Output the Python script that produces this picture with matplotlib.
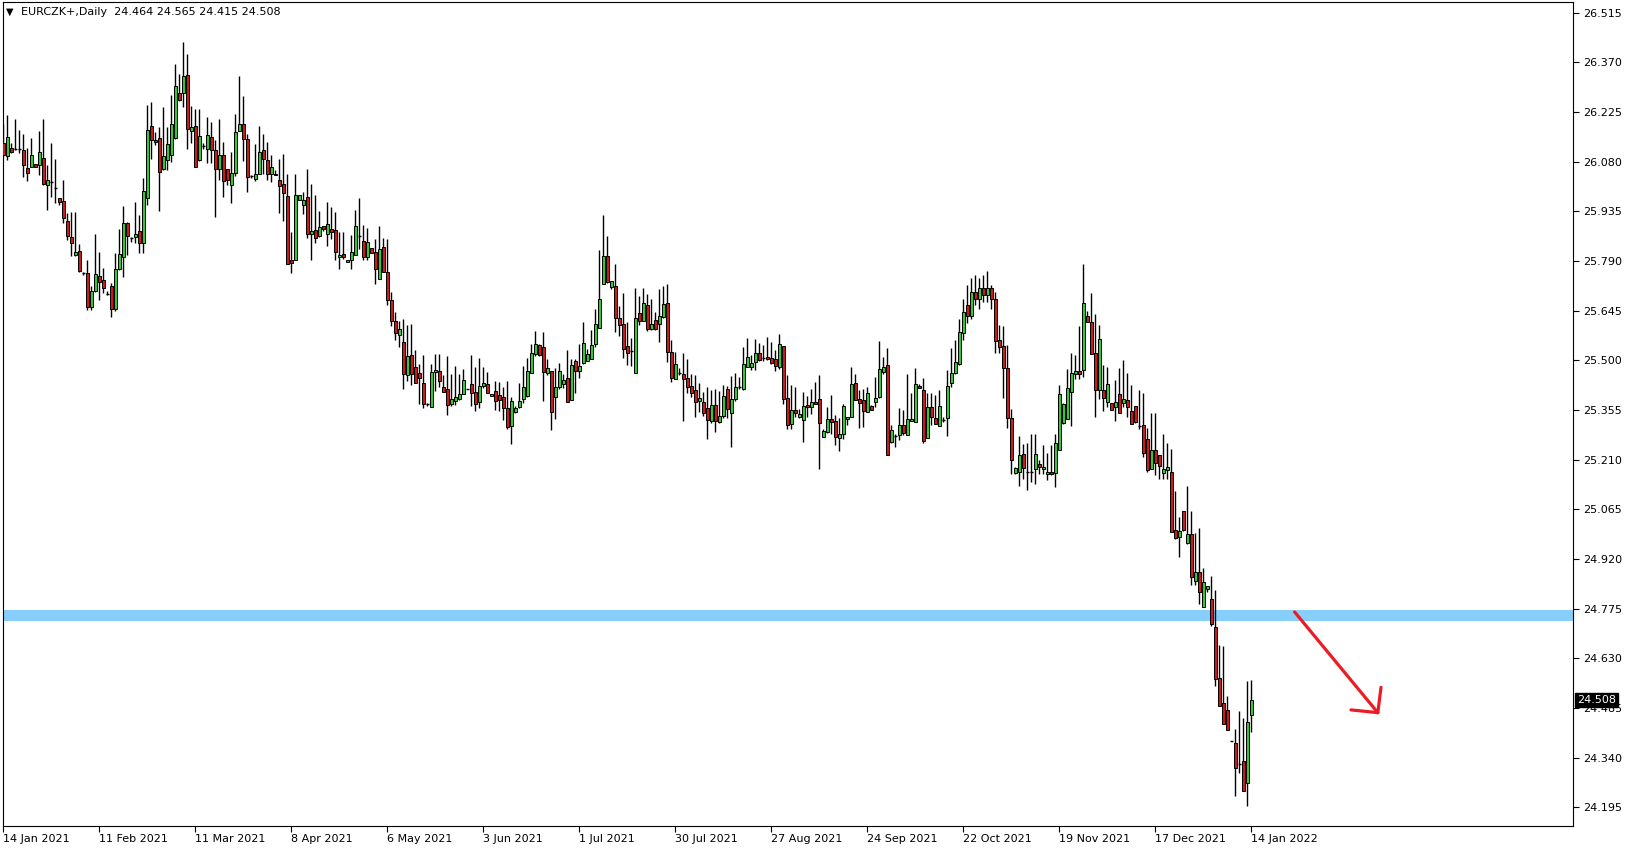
import matplotlib.pyplot as plt
import matplotlib.transforms as mtransforms

# daily bars EURCZK+ (broker has sunday bars, 6 per week)
opens = [
    26.133, 26.096, 26.121, 26.118, 26.117, 26.114, 26.060, 26.063, 26.072, 26.069,
    26.090, 26.013, 26.022, 26.004, 25.973, 25.964, 25.906, 25.859, 25.808, 25.819,
    25.757, 25.755, 25.656, 25.703, 25.745, 25.733, 25.693, 25.716, 25.651, 25.767,
    25.802, 25.900, 25.857, 25.861, 25.876, 25.841, 25.973, 26.183, 26.143, 26.148,
    26.057, 26.086, 26.098, 26.150, 26.280, 26.281, 26.332, 26.170, 26.183, 26.086,
    26.126, 26.116, 26.153, 26.115, 26.057, 26.098, 26.057, 26.012, 26.047, 26.168,
    26.191, 26.146, 26.038, 26.030, 26.045, 26.113, 26.084, 26.045, 26.045, 26.026,
    26.016, 25.979, 25.794, 25.794, 25.967, 25.952, 25.976, 25.870, 25.879, 25.864,
    25.891, 25.870, 25.882, 25.879, 25.800, 25.809, 25.788, 25.794, 25.806, 25.864,
    25.847, 25.800, 25.829, 25.815, 25.736, 25.832, 25.759, 25.677, 25.615, 25.575,
    25.553, 25.456, 25.515, 25.480, 25.462, 25.433, 25.371, 25.363, 25.465, 25.468,
    25.423, 25.416, 25.371, 25.382, 25.387, 25.401, 25.416, 25.431, 25.407, 25.377,
    25.426, 25.431, 25.395, 25.410, 25.398, 25.392, 25.360, 25.309, 25.348, 25.363,
    25.386, 25.397, 25.462, 25.518, 25.544, 25.538, 25.462, 25.468, 25.394, 25.423,
    25.432, 25.447, 25.385, 25.498, 25.470, 25.493, 25.499, 25.503, 25.546, 25.593,
    25.722, 25.804, 25.713, 25.716, 25.622, 25.606, 25.542, 25.528, 25.464, 25.637,
    25.616, 25.660, 25.592, 25.617, 25.607, 25.625, 25.666, 25.525, 25.444, 25.462,
    25.460, 25.447, 25.424, 25.412, 25.382, 25.377, 25.360, 25.324, 25.368, 25.319,
    25.338, 25.415, 25.345, 25.388, 25.421, 25.415, 25.479, 25.481, 25.496, 25.520,
    25.506, 25.508, 25.506, 25.503, 25.479, 25.542, 25.389, 25.313, 25.355, 25.333,
    25.325, 25.369, 25.362, 25.378, 25.388, 25.276, 25.291, 25.327, 25.322, 25.274,
    25.286, 25.327, 25.335, 25.433, 25.386, 25.383, 25.350, 25.366, 25.378, 25.393,
    25.466, 25.486, 25.260, 25.279, 25.283, 25.311, 25.283, 25.322, 25.320, 25.424,
    25.413, 25.272, 25.362, 25.330, 25.309, 25.325, 25.332, 25.434, 25.463, 25.488,
    25.580, 25.660, 25.630, 25.700, 25.680, 25.710, 25.690, 25.710, 25.680, 25.559,
    25.541, 25.476, 25.330, 25.171, 25.174, 25.225, 25.173, 25.175, 25.181, 25.198,
    25.181, 25.169, 25.173, 25.171, 25.239, 25.318, 25.327, 25.406, 25.461, 25.468,
    25.471, 25.629, 25.611, 25.520, 25.414, 25.414, 25.377, 25.374, 25.362, 25.400,
    25.374, 25.385, 25.351, 25.366, 25.308, 25.310, 25.269, 25.181, 25.239, 25.222,
    25.171, 25.179, 25.173, 25.004, 24.985, 25.060, 24.967, 24.993, 24.856, 24.882,
    24.780, 24.832, 24.802, 24.720, 24.572, 24.498, 24.479, 24.387, 24.382, 24.321,
    24.331, 24.265, 24.464,
]
highs = [
    26.190, 26.216, 26.133, 26.203, 26.172, 26.162, 26.119, 26.148, 26.074, 26.168,
    26.203, 26.070, 26.133, 26.087, 25.974, 26.026, 25.931, 25.934, 25.934, 25.839,
    25.757, 25.793, 25.718, 25.870, 25.816, 25.768, 25.702, 25.725, 25.814, 25.883,
    25.950, 25.905, 25.861, 25.963, 25.924, 26.031, 26.245, 26.255, 26.167, 26.180,
    26.238, 26.180, 26.274, 26.365, 26.336, 26.428, 26.394, 26.242, 26.235, 26.235,
    26.133, 26.211, 26.195, 26.142, 26.203, 26.137, 26.057, 26.107, 26.218, 26.329,
    26.271, 26.160, 26.040, 26.131, 26.183, 26.162, 26.137, 26.098, 26.055, 26.088,
    26.102, 26.045, 25.875, 26.045, 25.982, 25.992, 26.057, 26.016, 25.982, 25.935,
    25.891, 25.962, 25.947, 25.932, 25.873, 25.873, 25.794, 25.865, 25.938, 25.973,
    25.896, 25.885, 25.829, 25.853, 25.891, 25.858, 25.855, 25.700, 25.640, 25.616,
    25.621, 25.604, 25.605, 25.530, 25.489, 25.516, 25.375, 25.489, 25.518, 25.518,
    25.457, 25.511, 25.460, 25.483, 25.460, 25.475, 25.417, 25.514, 25.480, 25.506,
    25.480, 25.467, 25.401, 25.438, 25.436, 25.423, 25.438, 25.394, 25.367, 25.433,
    25.483, 25.506, 25.548, 25.586, 25.547, 25.583, 25.503, 25.468, 25.477, 25.491,
    25.460, 25.530, 25.505, 25.505, 25.546, 25.612, 25.534, 25.587, 25.651, 25.822,
    25.924, 25.863, 25.730, 25.781, 25.658, 25.697, 25.613, 25.564, 25.711, 25.688,
    25.711, 25.693, 25.678, 25.642, 25.708, 25.717, 25.723, 25.559, 25.524, 25.476,
    25.520, 25.503, 25.459, 25.457, 25.433, 25.408, 25.423, 25.413, 25.415, 25.410,
    25.428, 25.425, 25.454, 25.464, 25.450, 25.540, 25.565, 25.515, 25.561, 25.549,
    25.545, 25.567, 25.554, 25.530, 25.577, 25.542, 25.457, 25.428, 25.423, 25.357,
    25.408, 25.397, 25.415, 25.437, 25.456, 25.298, 25.364, 25.398, 25.340, 25.330,
    25.372, 25.333, 25.481, 25.461, 25.413, 25.415, 25.422, 25.369, 25.450, 25.556,
    25.510, 25.537, 25.311, 25.286, 25.360, 25.356, 25.459, 25.405, 25.476, 25.432,
    25.447, 25.405, 25.403, 25.398, 25.413, 25.335, 25.471, 25.537, 25.559, 25.620,
    25.680, 25.720, 25.740, 25.750, 25.740, 25.750, 25.760, 25.720, 25.700, 25.602,
    25.599, 25.544, 25.359, 25.189, 25.278, 25.255, 25.259, 25.284, 25.286, 25.208,
    25.252, 25.228, 25.252, 25.286, 25.427, 25.376, 25.473, 25.520, 25.514, 25.599,
    25.782, 25.644, 25.695, 25.634, 25.602, 25.485, 25.479, 25.374, 25.442, 25.478,
    25.500, 25.464, 25.427, 25.366, 25.414, 25.403, 25.301, 25.347, 25.347, 25.222,
    25.284, 25.259, 25.242, 25.118, 25.041, 25.060, 25.133, 25.060, 24.995, 25.009,
    24.893, 24.841, 24.870, 24.829, 24.669, 24.666, 24.520, 24.388, 24.422, 24.476,
    24.455, 24.563, 24.565,
]
lows = [
    26.094, 26.086, 26.106, 26.114, 26.106, 26.036, 26.024, 26.063, 26.064, 26.041,
    26.012, 25.939, 25.977, 25.960, 25.953, 25.902, 25.851, 25.804, 25.804, 25.759,
    25.749, 25.647, 25.647, 25.700, 25.676, 25.695, 25.690, 25.625, 25.645, 25.763,
    25.744, 25.807, 25.846, 25.841, 25.814, 25.814, 25.953, 26.087, 26.128, 25.937,
    26.055, 26.055, 26.080, 26.146, 26.258, 26.240, 26.118, 26.133, 26.063, 26.083,
    26.117, 26.077, 26.076, 25.917, 26.026, 25.977, 26.011, 25.960, 26.039, 26.168,
    26.082, 25.992, 26.033, 26.024, 26.045, 26.045, 26.026, 26.021, 26.041, 25.930,
    25.906, 25.780, 25.755, 25.794, 25.967, 25.926, 25.856, 25.794, 25.843, 25.860,
    25.878, 25.835, 25.855, 25.794, 25.767, 25.796, 25.788, 25.765, 25.806, 25.826,
    25.794, 25.794, 25.812, 25.724, 25.736, 25.759, 25.661, 25.600, 25.560, 25.540,
    25.415, 25.438, 25.427, 25.433, 25.373, 25.360, 25.365, 25.363, 25.411, 25.423,
    25.406, 25.340, 25.365, 25.370, 25.384, 25.401, 25.415, 25.365, 25.353, 25.360,
    25.419, 25.404, 25.395, 25.356, 25.353, 25.326, 25.299, 25.254, 25.345, 25.360,
    25.374, 25.394, 25.462, 25.513, 25.511, 25.381, 25.457, 25.295, 25.328, 25.415,
    25.419, 25.379, 25.385, 25.404, 25.447, 25.489, 25.499, 25.503, 25.538, 25.593,
    25.722, 25.725, 25.707, 25.581, 25.571, 25.506, 25.486, 25.483, 25.464, 25.603,
    25.616, 25.586, 25.588, 25.588, 25.554, 25.622, 25.496, 25.435, 25.444, 25.457,
    25.324, 25.405, 25.392, 25.335, 25.350, 25.337, 25.269, 25.318, 25.289, 25.318,
    25.330, 25.330, 25.248, 25.382, 25.415, 25.413, 25.479, 25.472, 25.472, 25.499,
    25.499, 25.501, 25.489, 25.470, 25.474, 25.372, 25.298, 25.298, 25.335, 25.330,
    25.262, 25.335, 25.343, 25.372, 25.181, 25.276, 25.288, 25.284, 25.253, 25.236,
    25.269, 25.310, 25.335, 25.385, 25.301, 25.306, 25.350, 25.356, 25.364, 25.389,
    25.459, 25.222, 25.259, 25.247, 25.267, 25.281, 25.283, 25.322, 25.320, 25.418,
    25.257, 25.272, 25.310, 25.315, 25.309, 25.321, 25.278, 25.422, 25.461, 25.485,
    25.560, 25.610, 25.620, 25.660, 25.650, 25.670, 25.670, 25.650, 25.520, 25.520,
    25.391, 25.301, 25.169, 25.169, 25.132, 25.152, 25.121, 25.145, 25.138, 25.169,
    25.167, 25.150, 25.164, 25.130, 25.239, 25.315, 25.327, 25.308, 25.444, 25.444,
    25.451, 25.613, 25.517, 25.335, 25.388, 25.352, 25.364, 25.356, 25.323, 25.346,
    25.362, 25.334, 25.313, 25.317, 25.298, 25.218, 25.174, 25.181, 25.164, 25.153,
    25.152, 25.152, 24.997, 24.977, 24.926, 25.002, 24.963, 24.844, 24.844, 24.788,
    24.780, 24.824, 24.725, 24.549, 24.491, 24.437, 24.420, 24.387, 24.229, 24.296,
    24.241, 24.197, 24.415,
]
closes = [
    26.099, 26.153, 26.109, 26.117, 26.118, 26.071, 26.048, 26.098, 26.065, 26.107,
    26.014, 26.025, 26.020, 26.004, 25.962, 25.914, 25.864, 25.843, 25.816, 25.761,
    25.755, 25.656, 25.701, 25.751, 25.729, 25.712, 25.692, 25.651, 25.766, 25.809,
    25.900, 25.864, 25.857, 25.870, 25.841, 25.993, 26.172, 26.144, 26.136, 26.050,
    26.095, 26.131, 26.189, 26.302, 26.259, 26.329, 26.174, 26.180, 26.063, 26.154,
    26.127, 26.157, 26.115, 26.057, 26.098, 26.024, 26.026, 26.048, 26.166, 26.191,
    26.146, 26.035, 26.037, 26.045, 26.109, 26.088, 26.045, 26.063, 26.041, 26.010,
    25.989, 25.780, 25.784, 25.982, 25.982, 25.969, 25.870, 25.876, 25.858, 25.888,
    25.884, 25.899, 25.873, 25.815, 25.806, 25.802, 25.794, 25.815, 25.893, 25.864,
    25.800, 25.844, 25.812, 25.767, 25.826, 25.759, 25.677, 25.615, 25.580, 25.590,
    25.459, 25.513, 25.459, 25.433, 25.447, 25.371, 25.372, 25.465, 25.472, 25.438,
    25.406, 25.368, 25.386, 25.392, 25.402, 25.442, 25.416, 25.403, 25.372, 25.424,
    25.434, 25.404, 25.401, 25.380, 25.383, 25.360, 25.306, 25.380, 25.360, 25.380,
    25.421, 25.468, 25.520, 25.547, 25.514, 25.465, 25.477, 25.348, 25.421, 25.468,
    25.442, 25.379, 25.485, 25.470, 25.482, 25.550, 25.518, 25.545, 25.606, 25.678,
    25.804, 25.729, 25.730, 25.622, 25.604, 25.532, 25.520, 25.528, 25.622, 25.616,
    25.666, 25.592, 25.606, 25.592, 25.628, 25.663, 25.525, 25.447, 25.488, 25.462,
    25.444, 25.421, 25.405, 25.379, 25.389, 25.347, 25.326, 25.368, 25.322, 25.336,
    25.395, 25.357, 25.386, 25.421, 25.421, 25.489, 25.509, 25.492, 25.520, 25.501,
    25.505, 25.505, 25.491, 25.483, 25.547, 25.386, 25.310, 25.355, 25.345, 25.343,
    25.366, 25.362, 25.378, 25.372, 25.317, 25.293, 25.327, 25.320, 25.276, 25.286,
    25.366, 25.333, 25.430, 25.385, 25.376, 25.352, 25.403, 25.356, 25.391, 25.473,
    25.479, 25.222, 25.296, 25.280, 25.310, 25.288, 25.327, 25.327, 25.430, 25.418,
    25.265, 25.362, 25.333, 25.315, 25.366, 25.325, 25.424, 25.463, 25.494, 25.582,
    25.640, 25.630, 25.700, 25.680, 25.710, 25.690, 25.710, 25.680, 25.557, 25.539,
    25.476, 25.330, 25.208, 25.184, 25.223, 25.184, 25.173, 25.175, 25.225, 25.189,
    25.187, 25.175, 25.169, 25.257, 25.400, 25.372, 25.420, 25.464, 25.468, 25.461,
    25.666, 25.613, 25.517, 25.414, 25.563, 25.391, 25.432, 25.356, 25.377, 25.346,
    25.386, 25.364, 25.315, 25.320, 25.308, 25.230, 25.179, 25.239, 25.200, 25.192,
    25.181, 25.187, 24.997, 24.982, 25.001, 25.004, 24.993, 24.868, 24.882, 24.824,
    24.852, 24.841, 24.730, 24.570, 24.491, 24.437, 24.420, 24.387, 24.309, 24.321,
    24.241, 24.443, 24.508,
]

date_labels = ["14 Jan 2021", "11 Feb 2021", "11 Mar 2021", "8 Apr 2021", "6 May 2021",
               "3 Jun 2021", "1 Jul 2021", "30 Jul 2021", "27 Aug 2021", "24 Sep 2021",
               "22 Oct 2021", "19 Nov 2021", "17 Dec 2021", "14 Jan 2022"]
bars_per_label = 24

price_ticks = [26.515 - 0.145 * k for k in range(17)]
last_price = 24.508
level_low, level_high = 24.739, 24.771          # blue zone
arrow_x = [322.8, 343.6]
arrow_y = [24.765, 24.471]
head_x = [[336.9, 343.6], [343.6, 344.4]]
head_y = [[24.479, 24.471], [24.471, 24.545]]

W, H = 1629, 850
fig = plt.figure(figsize=(W / 100, H / 100), dpi=100)
ax = fig.add_axes([3 / W, 1 - 826 / H, 1570 / W, 824 / H])

GREEN = '#2ECC2E'
RED = '#D01818'

ax.axhspan(level_low, level_high, color='#87CEFA', zorder=1, lw=0)

idx = list(range(len(opens)))
ax.vlines(idx, lows, highs, color='black', lw=1.0, zorder=2)
for i, o, c in zip(idx, opens, closes):
    if abs(c - o) < 0.003:
        ax.hlines((o + c) / 2, i - 0.4, i + 0.4, color='black', lw=1.0, zorder=3)
        continue
    col = GREEN if c > o else RED
    ax.bar(i, abs(c - o), bottom=min(o, c), width=0.65, color=col,
           edgecolor='black', linewidth=0.7, zorder=3)

# hand drawn arrow
ax.plot(arrow_x, arrow_y, color='#ED1C24', lw=2.3, solid_capstyle='round', zorder=4)
for hx, hy in zip(head_x, head_y):
    ax.plot(hx, hy, color='#ED1C24', lw=2.3, solid_capstyle='round', zorder=4)

ax.set_xlim(-0.125, 392.4)
ax.set_ylim(24.140, 26.546)

ax.yaxis.tick_right()
ax.set_yticks(price_ticks)
ax.set_yticklabels([f"{p:.3f}" for p in price_ticks])
ax.tick_params(axis='y', length=4, width=0.8, pad=3, labelsize=8, direction='out')

xt = [k * bars_per_label for k in range(len(date_labels))]
ax.set_xticks(xt)
ax.set_xticklabels(date_labels, ha='left')
ax.tick_params(axis='x', length=4, width=0.8, pad=1.5, labelsize=8, direction='out')

for s in ax.spines.values():
    s.set_color('black')
    s.set_linewidth(0.8)

trans = mtransforms.blended_transform_factory(ax.transAxes, ax.transData)
ax.text(1.0 + 4 / 1570, last_price, f"{last_price:.3f}", transform=trans,
        ha='left', va='center', fontsize=8, color='white', zorder=6,
        bbox=dict(boxstyle='square,pad=0.18', fc='black', ec='black'))

fig.text(6 / W, 1 - 12 / H, '▼', fontsize=7, va='center', ha='left')
fig.text(21 / W, 1 - 12 / H, 'EURCZK+,Daily  24.464 24.565 24.415 24.508',
         fontsize=8, va='center', ha='left')

plt.savefig('out.png', dpi=100)
